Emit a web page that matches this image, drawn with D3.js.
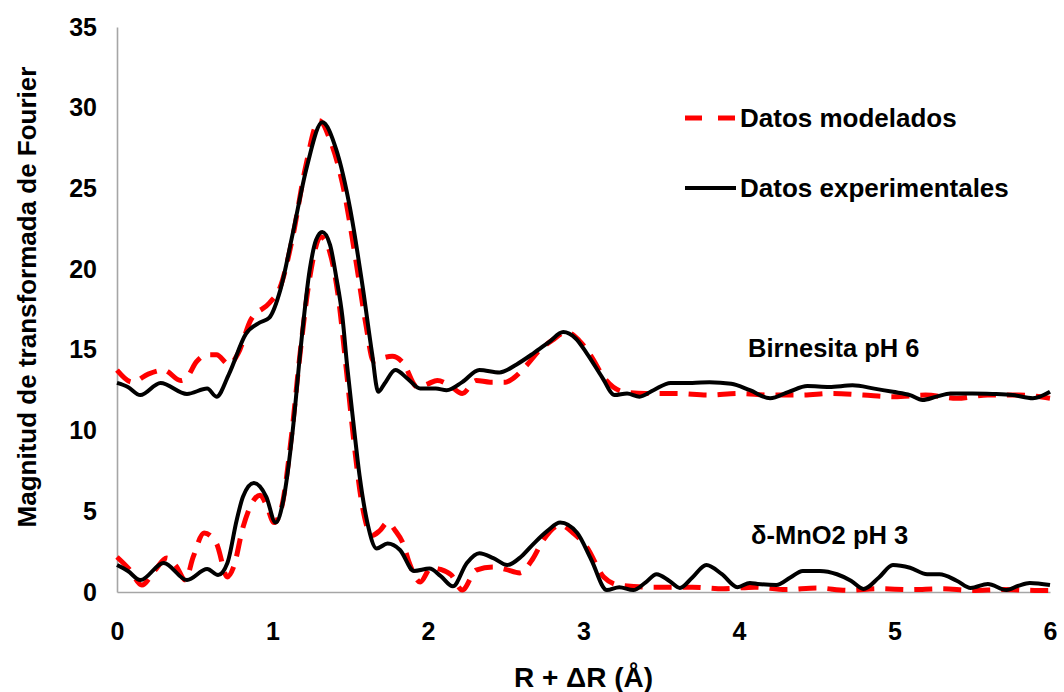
<!DOCTYPE html>
<html>
<head>
<meta charset="utf-8">
<script src="https://cdn.jsdelivr.net/npm/d3@7"></script>
<style>
  html, body { margin: 0; padding: 0; background: #fff; }
  svg text { font-family: "Liberation Sans", Arial, sans-serif; font-weight: bold; fill: #000; }
</style>
</head>
<body>
<svg id="chart" width="1064" height="692"></svg>
<script>
// Fourier transform magnitude vs. R + ΔR for two Mn oxide samples

// Birnesita pH 6 – experimental
const birExpR = [0, 0.07, 0.15, 0.28, 0.45, 0.58, 0.64, 0.72, 0.83, 0.92, 0.98, 1.05, 1.13, 1.22, 1.32, 1.41, 1.50, 1.58, 1.64, 1.68, 1.72, 1.79, 1.87, 1.95, 2.05, 2.12, 2.22, 2.33, 2.46, 2.57, 2.68, 2.78, 2.87, 2.95, 3.02, 3.12, 3.20, 3.28, 3.36, 3.45, 3.56, 3.70, 3.81, 3.95, 4.07, 4.20, 4.32, 4.44, 4.58, 4.73, 4.87, 4.99, 5.10, 5.18, 5.27, 5.36, 5.50, 5.63, 5.76, 5.89, 6.0];
const birExpMag = [12.95, 12.7, 12.2, 12.95, 12.27, 12.6, 12.1, 13.5, 16.0, 16.7, 17.0, 18.7, 22.2, 26.3, 29.1, 27.4, 23.7, 18.9, 14.8, 12.4, 12.9, 13.75, 13.2, 12.6, 12.6, 12.5, 13.0, 13.75, 13.6, 14.1, 14.8, 15.5, 16.1, 15.7, 14.8, 13.3, 12.2, 12.3, 12.1, 12.5, 12.95, 12.95, 13.0, 12.9, 12.5, 12.0, 12.4, 12.76, 12.7, 12.8, 12.6, 12.4, 12.2, 11.9, 12.1, 12.3, 12.3, 12.27, 12.2, 12.0, 12.4];

// Birnesita pH 6 – model
const birModR = [0, 0.1, 0.2, 0.3, 0.41, 0.45, 0.51, 0.58, 0.64, 0.72, 0.78, 0.86, 0.98, 1.05, 1.13, 1.21, 1.30, 1.37, 1.45, 1.54, 1.60, 1.65, 1.71, 1.77, 1.84, 1.93, 2.0, 2.06, 2.14, 2.22, 2.31, 2.40, 2.50, 2.55, 2.63, 2.72, 2.80, 2.89, 2.97, 3.05, 3.13, 3.26, 3.40, 3.6, 3.8, 4.0, 4.2, 4.4, 4.6, 4.8, 5.0, 5.2, 5.4, 5.6, 5.8, 6.0];
const birModMag = [13.75, 13.0, 13.5, 13.75, 13.1, 13.3, 14.25, 14.7, 14.7, 14.1, 14.8, 16.85, 17.9, 18.9, 22.0, 26.2, 29.2, 28.0, 25.3, 20.3, 16.6, 14.3, 14.5, 14.6, 14.2, 12.7, 12.9, 13.1, 12.8, 12.3, 13.1, 13.0, 13.0, 13.25, 14.0, 15.0, 15.6, 16.1, 15.6, 14.6, 13.3, 12.4, 12.3, 12.3, 12.2, 12.3, 12.2, 12.2, 12.3, 12.2, 12.1, 12.2, 12.0, 12.2, 12.2, 12.0];

// δ-MnO2 pH 3 – experimental
const mnoExpR = [0, 0.07, 0.15, 0.3, 0.45, 0.58, 0.65, 0.71, 0.77, 0.81, 0.88, 0.96, 1.02, 1.07, 1.13, 1.18, 1.24, 1.28, 1.32, 1.37, 1.41, 1.45, 1.48, 1.52, 1.56, 1.61, 1.67, 1.74, 1.82, 1.91, 2.01, 2.08, 2.16, 2.25, 2.33, 2.42, 2.51, 2.60, 2.68, 2.77, 2.85, 2.96, 3.05, 3.15, 3.23, 3.32, 3.40, 3.47, 3.55, 3.62, 3.70, 3.79, 3.89, 3.99, 4.07, 4.12, 4.24, 4.33, 4.41, 4.52, 4.63, 4.72, 4.80, 4.90, 4.99, 5.10, 5.21, 5.29, 5.40, 5.49, 5.60, 5.72, 5.80, 5.87, 6.0];
const mnoExpMag = [1.67, 1.3, 0.74, 1.8, 0.74, 1.42, 1.05, 1.8, 4.46, 5.9, 6.75, 5.9, 4.3, 5.7, 10.0, 15.0, 20.0, 21.8, 22.3, 21.5, 19.5, 17.0, 14.0, 10.5, 7.2, 4.3, 2.7, 3.0, 2.6, 1.3, 1.45, 1.0, 0.35, 1.8, 2.4, 2.1, 1.67, 2.2, 3.0, 3.8, 4.3, 3.65, 2.0, 0.12, 0.3, 0.12, 0.6, 1.1, 0.7, 0.25, 0.9, 1.67, 1.1, 0.3, 0.56, 0.5, 0.43, 0.9, 1.3, 1.3, 1.1, 0.7, 0.19, 0.9, 1.67, 1.5, 1.1, 1.1, 0.7, 0.25, 0.5, 0.12, 0.4, 0.56, 0.43];

// δ-MnO2 pH 3 – model
const mnoModR = [0, 0.08, 0.16, 0.24, 0.32, 0.38, 0.44, 0.49, 0.56, 0.64, 0.71, 0.75, 0.81, 0.88, 0.92, 0.96, 1.01, 1.06, 1.12, 1.18, 1.24, 1.31, 1.37, 1.42, 1.48, 1.52, 1.58, 1.64, 1.69, 1.74, 1.79, 1.84, 1.88, 1.95, 2.02, 2.08, 2.15, 2.22, 2.31, 2.42, 2.50, 2.59, 2.67, 2.74, 2.85, 2.94, 3.02, 3.13, 3.23, 3.45, 3.7, 3.9, 4.1, 4.3, 4.5, 4.7, 4.9, 5.1, 5.3, 5.5, 5.7, 5.9, 6.0];
const mnoModMag = [2.17, 1.4, 0.43, 1.3, 2.1, 1.6, 0.74, 2.17, 3.65, 3.0, 0.93, 1.55, 4.0, 5.7, 6.0, 5.4, 4.3, 5.3, 9.5, 15.0, 19.5, 22.0, 21.0, 18.5, 13.3, 9.6, 5.2, 3.5, 3.8, 4.3, 3.8, 3.0, 1.8, 0.62, 1.5, 1.4, 1.05, 0.12, 1.36, 1.55, 1.4, 1.18, 2.0, 3.2, 4.15, 3.6, 2.8, 0.93, 0.43, 0.3, 0.3, 0.2, 0.3, 0.15, 0.25, 0.1, 0.2, 0.15, 0.2, 0.1, 0.15, 0.1, 0.1];

const xTicks = [0, 1, 2, 3, 4, 5, 6];
const yTicks = [0, 5, 10, 15, 20, 25, 30, 35];
const legendLabels = ["Datos modelados", "Datos experimentales"];
const sampleLabels = ["Birnesita pH 6", "δ-MnO2 pH 3"];

const svg = d3.select("#chart");
const plot = { left: 117, right: 1050, top: 27, bottom: 592 };

const x = d3.scaleLinear().domain([0, 6]).range([plot.left, plot.right]);
const y = d3.scaleLinear().domain([0, 35]).range([plot.bottom, plot.top]);

// axes: plain grey lines, labels only
const xAxis = d3.axisBottom(x).tickValues(xTicks).tickSize(0).tickPadding(30).tickFormat(d3.format("d"));
const yAxis = d3.axisLeft(y).tickValues(yTicks).tickSize(0).tickPadding(20).tickFormat(d3.format("d"));

const gx = svg.append("g").attr("transform", `translate(0,${plot.bottom})`).call(xAxis);
const gy = svg.append("g").attr("transform", `translate(${plot.left},0)`).call(yAxis);
[gx, gy].forEach(g => {
  g.select(".domain").attr("stroke", "#a6a6a6").attr("stroke-width", 1.6);
  g.selectAll("text").style("font-size", "25px").style("font-family", "'Liberation Sans', Arial, sans-serif").style("font-weight", "bold").attr("fill", "#000");
});

// axis titles
svg.append("text")
  .attr("x", (plot.left + plot.right) / 2)
  .attr("y", 687)
  .attr("text-anchor", "middle")
  .style("font-size", "28px")
  .text("R + ΔR (Å)");

svg.append("text")
  .attr("transform", "translate(36,297) rotate(-90)")
  .attr("text-anchor", "middle")
  .style("font-size", "26px")
  .text("Magnitud de transformada de Fourier");

const line = (xs, ys) => d3.line()
  .x((d, i) => x(xs[i]))
  .y((d, i) => y(ys[i]))
  .curve(d3.curveMonotoneX)(ys);

const modelStyle = s => s.attr("fill", "none").attr("stroke", "#ff0000").attr("stroke-width", 5).attr("stroke-dasharray", "18,11");
const expStyle = s => s.attr("fill", "none").attr("stroke", "#000").attr("stroke-width", 4).attr("stroke-linejoin", "round");

svg.append("path").attr("d", line(birModR, birModMag)).call(modelStyle);
svg.append("path").attr("d", line(mnoModR, mnoModMag)).call(modelStyle);
svg.append("path").attr("d", line(birExpR, birExpMag)).call(expStyle);
svg.append("path").attr("d", line(mnoExpR, mnoExpMag)).call(expStyle);

// legend
const legend = svg.append("g");
legend.append("line").attr("x1", 685).attr("x2", 736).attr("y1", 118).attr("y2", 118).call(modelStyle).attr("stroke-dasharray", "17,16");
legend.append("line").attr("x1", 685).attr("x2", 736).attr("y1", 188).attr("y2", 188).call(expStyle);
legend.append("text").attr("x", 740).attr("y", 127).style("font-size", "26px").text(legendLabels[0]);
legend.append("text").attr("x", 740).attr("y", 197).style("font-size", "26px").text(legendLabels[1]);

// sample labels
svg.append("text").attr("x", 748).attr("y", 357).style("font-size", "25.5px").text(sampleLabels[0]);
svg.append("text").attr("x", 751).attr("y", 544).style("font-size", "25.5px").text(sampleLabels[1]);
</script>
</body>
</html>
